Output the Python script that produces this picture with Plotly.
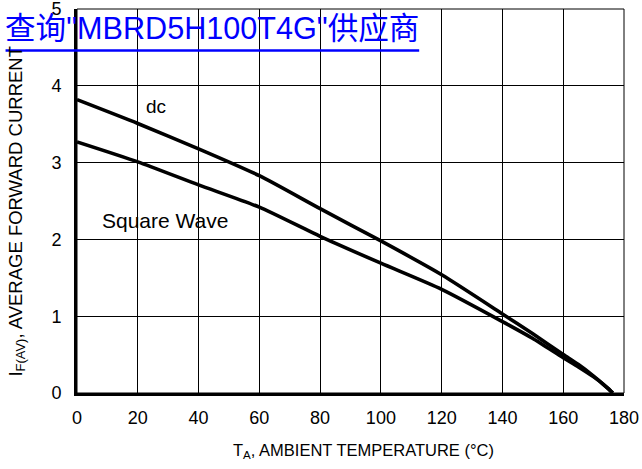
import plotly.graph_objects as go

# Data
temp_dc = [0, 20, 40, 60, 80, 100, 120, 140, 150, 160, 165, 170, 173, 175, 176.3]
curr_dc = [3.82, 3.51, 3.18, 2.83, 2.40, 1.98, 1.54, 1.03, 0.77, 0.50, 0.37, 0.22, 0.12, 0.05, 0.0]
temp_sq = [0, 20, 40, 60, 80, 100, 120, 140, 150, 160, 165, 170, 173, 175, 176.3]
curr_sq = [3.27, 3.01, 2.71, 2.42, 2.04, 1.69, 1.35, 0.93, 0.71, 0.46, 0.34, 0.21, 0.12, 0.05, 0.0]
x_ticks = [0, 20, 40, 60, 80, 100, 120, 140, 160, 180]
y_ticks = [0, 1, 2, 3, 4, 5]

FONT = "Liberation Sans, Arial, sans-serif"
PW, PH, L, T = 547.5, 384.2, 76.5, 9.3


def px(xp):
    return (xp - L) / PW


def py(yp):
    return (T + PH - yp) / PH


fig = go.Figure()
fig.add_trace(go.Scatter(x=temp_dc, y=curr_dc, mode="lines",
                         line=dict(color="black", width=3.6, shape="spline", smoothing=0.6),
                         showlegend=False, hoverinfo="skip"))
fig.add_trace(go.Scatter(x=temp_sq, y=curr_sq, mode="lines",
                         line=dict(color="black", width=3.6, shape="spline", smoothing=0.6),
                         showlegend=False, hoverinfo="skip"))

axis_common = dict(showgrid=True, gridcolor="black", gridwidth=1,
                   showline=True, linecolor="black", linewidth=3,
                   zeroline=False, ticks="", fixedrange=True,
                   ticklabeloverflow="allow", automargin=False,
                   tickfont=dict(family=FONT, size=18, color="black"))

fig.update_xaxes(range=[0, 180], tickvals=x_ticks, ticklabelstandoff=6, **axis_common)
fig.update_yaxes(range=[0, 5.0005], tickvals=y_ticks, ticklabelstandoff=9, **axis_common)

# thin top/right border
fig.add_shape(type="rect", xref="paper", yref="paper", x0=0, y0=0, x1=1, y1=1,
              line=dict(color="black", width=1), layer="below")

fig.add_annotation(x=26.1, y=3.73, text="dc", showarrow=False,
                   font=dict(family=FONT, size=19, color="black"))
fig.add_annotation(x=29.1, y=2.245, text="Square Wave", showarrow=False,
                   font=dict(family=FONT, size=21, color="black"))

# x axis title
fig.add_annotation(xref="paper", yref="paper", x=px(363), y=py(452),
                   xanchor="center", yanchor="middle",
                   text="T<sub>A</sub>, AMBIENT TEMPERATURE (°C)", showarrow=False,
                   font=dict(family=FONT, size=16.5, color="black"))

# y axis title
fig.add_annotation(xref="paper", yref="paper", x=px(16), y=py(379),
                   xanchor="center", yanchor="bottom", textangle=-90,
                   text="I<sub>F(AV)</sub>, AVERAGE FORWARD CURRENT",
                   showarrow=False, font=dict(family=FONT, size=18.5, color="black"))

# top link-style title
fig.add_annotation(xref="paper", yref="paper", x=px(2), y=py(28.5),
                   xanchor="left", yanchor="middle",
                   text='查询"MBRD5H100T4G"供应商', showarrow=False,
                   font=dict(family="Liberation Sans, Noto Sans CJK SC", size=30.6, color="#0000ff"))
fig.add_shape(type="line", xref="paper", yref="paper",
              x0=px(5), x1=px(419), y0=py(50.7), y1=py(50.7),
              line=dict(color="#0000ff", width=2.5))

fig.update_layout(width=642, height=469,
                  margin=dict(l=L, r=18, t=T, b=469 - T - PH, autoexpand=False),
                  paper_bgcolor="white", plot_bgcolor="white")

fig.write_html("out.html", config={"displayModeBar": False})
